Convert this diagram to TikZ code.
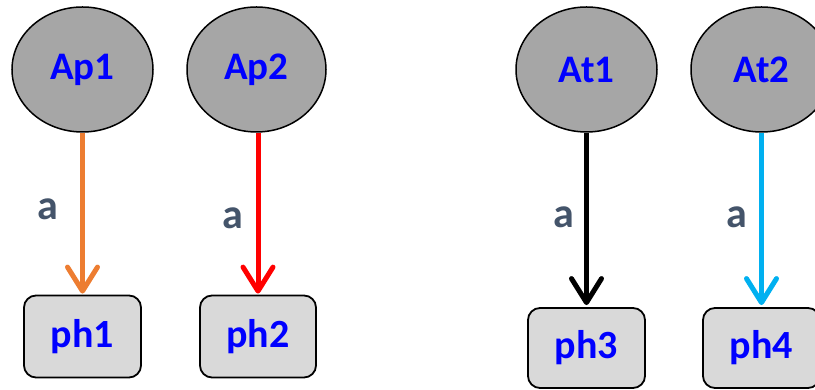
\documentclass[tikz,border=0pt]{standalone}
\usepackage{fontspec}
\setmainfont{Carlito}
\usetikzlibrary{shapes.geometric,arrows.meta}
\definecolor{ellfill}{HTML}{A6A6A6}
\definecolor{boxfill}{HTML}{D9D9D9}
\definecolor{txtblue}{HTML}{0000FF}
\definecolor{lblcol}{HTML}{44546A}
\definecolor{corange}{HTML}{ED7D31}
\definecolor{ccyan}{HTML}{00B0F0}
\tikzset{
  ell/.style={ellipse, draw=black, line width=1.5pt, fill=ellfill, inner sep=0pt,
    minimum width=141pt, minimum height=125pt, text=txtblue,
    font=\fontsize{39}{44}\selectfont\bfseries},
  phbox/.style={rectangle, rounded corners=12pt, draw=black, line width=1.8pt, fill=boxfill,
    minimum width=117pt, minimum height=82pt, inner sep=0pt, text=txtblue,
    font=\fontsize{40}{44}\selectfont\bfseries},
  lbl/.style={text=lblcol, font=\fontsize{42}{44}\selectfont\bfseries, inner sep=0pt},
  conn/.style={line width=5pt, -{Straight Barb[length=24pt,width=30pt,round]}}
}
\begin{document}
\begin{tikzpicture}[x=1pt,y=1pt]
\useasboundingbox (0,0) rectangle (815,390);
\begin{scope}
\clip (0,0) rectangle (815,390);
\node[ell] (Ap1) at (82.5,320.5) {Ap1};
\node[ell, minimum width=139pt] (Ap2) at (256.5,320.5) {Ap2};
\node[ell] (At1) at (586.5,320.5) {At1};
\node[ell] (At2) at (761.5,320.5) {At2};
\node[phbox] (ph1) at (82.5,53.5) {ph1};
\node[phbox, minimum width=116pt] (ph2) at (258,53.5) {ph2};
\node[phbox, minimum height=80pt] (ph3) at (586.5,42) {ph3};
\node[phbox, minimum height=80pt] (ph4) at (761.5,42) {ph4};
\draw[conn, draw=corange, shorten >=1pt] (Ap1.south) -- node[lbl, pos=.475, xshift=-35pt] {a} (ph1.north);
\draw[conn, draw=red, shorten >=1pt] (Ap2.south -| ph2.north) -- node[lbl, pos=.53, xshift=-25pt] {a} (ph2.north);
\draw[conn, draw=black, shorten >=2pt] (At1.south) -- node[lbl, pos=.486, xshift=-23pt] {a} (ph3.north);
\draw[conn, draw=ccyan, shorten >=2pt] (At2.south) -- node[lbl, pos=.486, xshift=-25pt] {a} (ph4.north);
\end{scope}
\end{tikzpicture}
\end{document}
